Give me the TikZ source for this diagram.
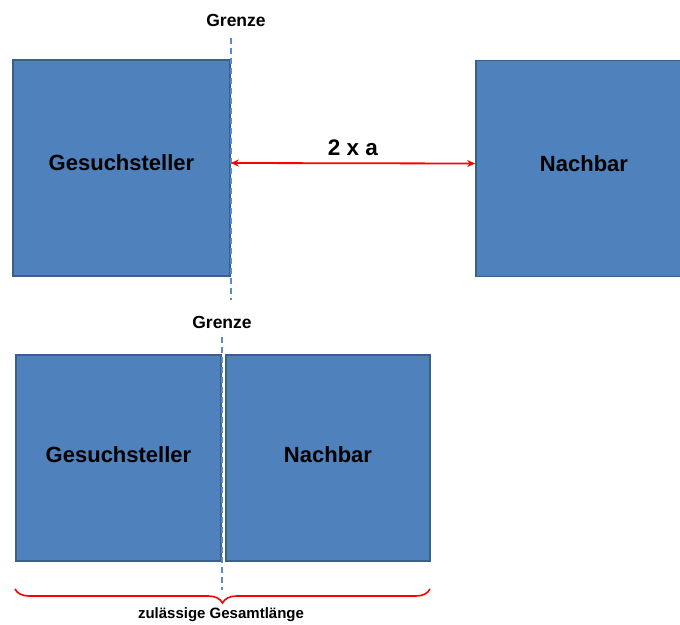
\documentclass[tikz,border=0pt]{standalone}
\usepackage{fontspec}
\setmainfont{Liberation Sans}
\usetikzlibrary{arrows.meta,decorations.pathreplacing}
\definecolor{boxfill}{HTML}{4F81BD}
\definecolor{boxline}{HTML}{3A5F8B}
\definecolor{dashblue}{HTML}{5B8BC6}
\definecolor{arrred}{HTML}{FF0000}
\tikzset{
  house/.style={draw=boxline, line width=1.6pt, fill=boxfill, rectangle, inner sep=0pt, font=\bfseries\fontsize{22}{26}\selectfont},
  grenzlabel/.style={font=\bfseries\fontsize{17.5}{20}\selectfont, inner sep=1pt},
  grenzline/.style={draw=dashblue, line width=2.2pt, dash pattern=on 6pt off 4pt},
  dimarrow/.style={draw=arrred, line width=1.8pt, {Stealth[length=8pt,width=7pt]}-{Stealth[length=8pt,width=7pt]}},
  bracestyle/.style={draw=arrred, line width=1.6pt, decorate, decoration={brace, amplitude=14pt}},
}
\begin{document}
\begin{tikzpicture}[x=1pt,y=-1pt]
\useasboundingbox (0,0) rectangle (680,624);
\begin{scope}
\clip (0,0) rectangle (680,624);
% top row
\node[house, minimum width=217pt, minimum height=216pt, text depth=10pt] (tl) at (121.5,168) {Gesuchsteller};
\node[house, minimum width=216pt, minimum height=216pt, text depth=10pt] (tr) at (584,168.5) {Nachbar};
\node[grenzlabel] (g1) at (236,20) {Grenze};
\coordinate (g1top) at (231,38);
\coordinate (g1bot) at (231,300);
\draw[grenzline] (g1top) -- (g1bot);
\draw[dimarrow] ([yshift=5pt]tl.east) -- ([yshift=5pt]tr.west) node[midway, above=3pt, font=\bfseries\fontsize{22.5}{26}\selectfont] (dist) {2 x a};
% bottom row
\node[house, minimum width=205pt, minimum height=206pt, text depth=6pt] (bl) at (118.5,458) {Gesuchsteller};
\node[house, minimum width=204pt, minimum height=206pt, text depth=6pt] (br) at (328,458) {Nachbar};
\node[grenzlabel] (g2) at (222,322) {Grenze};
\coordinate (g2top) at (222,337);
\coordinate (g2bot) at (222,590);
\draw[grenzline] (g2top) -- (g2bot);
\coordinate (bl0) at (15,589);
\coordinate (br0) at (430,589);
\draw[bracestyle] (br0) -- (bl0);
\node[font=\bfseries\fontsize{15}{18}\selectfont] (total) at (221,615) {zulässige Gesamtlänge};
\end{scope}
\end{tikzpicture}
\end{document}
